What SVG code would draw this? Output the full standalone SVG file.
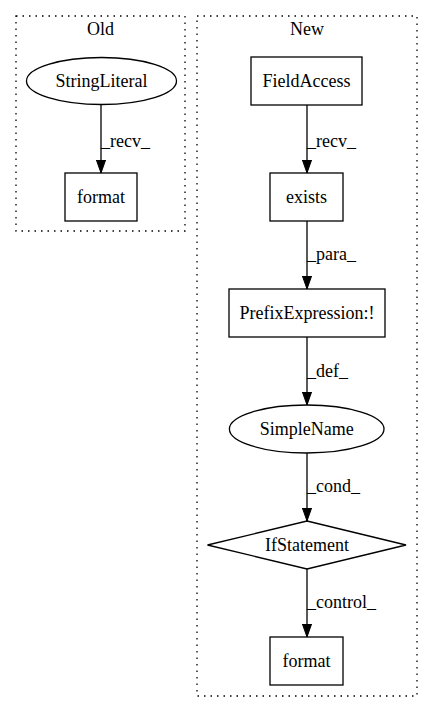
<svg xmlns="http://www.w3.org/2000/svg" width="432" height="712" viewBox="0 0 432 712" font-family="'Liberation Serif', 'DejaVu Serif', serif">
<style>
text{font-family:'Liberation Serif','DejaVu Serif',serif;font-size:18px;fill:#000}
.n{text-anchor:middle}
.shape{fill:none;stroke:#000;stroke-width:1.3}
.cluster{fill:none;stroke:#000;stroke-width:1.3;stroke-dasharray:1.5,5}
.edge{fill:none;stroke:#000;stroke-width:1.3}
</style>
<defs>
<marker id="arr" markerWidth="14" markerHeight="10" refX="13.3" refY="4.7" orient="auto" markerUnits="userSpaceOnUse">
<polygon points="0,0 13.3,4.7 0,9.4" fill="#000" stroke="#000" stroke-width="1"/>
</marker>
</defs>
<rect width="432" height="712" fill="#fff"/>
<g id="cluster_old">
<rect class="cluster" x="16" y="16" width="169" height="215"/>
<text class="n" x="100.5" y="35">Old</text>
</g>
<g id="cluster_new">
<rect class="cluster" x="197" y="16" width="220" height="680"/>
<text class="n" x="307" y="35">New</text>
</g>
<g id="edges">
<line class="edge" x1="101" y1="104.5" x2="101" y2="173" marker-end="url(#arr)"/>
<text x="101" y="147">_recv_</text>
<line class="edge" x1="307" y1="105" x2="307" y2="173" marker-end="url(#arr)"/>
<text x="307" y="147">_recv_</text>
<line class="edge" x1="307" y1="221" x2="307" y2="289" marker-end="url(#arr)"/>
<text x="307" y="260">_para_</text>
<line class="edge" x1="307" y1="337" x2="307" y2="405" marker-end="url(#arr)"/>
<text x="307" y="377">_def_</text>
<line class="edge" x1="307" y1="453" x2="307" y2="521" marker-end="url(#arr)"/>
<text x="307" y="492">_cond_</text>
<line class="edge" x1="307" y1="569" x2="307" y2="637" marker-end="url(#arr)"/>
<text x="307" y="608">_control_</text>
</g>
<g id="StringLiteral">
<ellipse class="shape" cx="101.5" cy="81" rx="75" ry="23.5"/>
<text class="n" x="101.5" y="87">StringLiteral</text>
</g>
<g id="format_old">
<rect class="shape" x="65" y="173" width="72" height="48"/>
<text class="n" x="101" y="203">format</text>
</g>
<g id="FieldAccess">
<rect class="shape" x="251" y="57" width="111" height="48"/>
<text class="n" x="306.5" y="87">FieldAccess</text>
</g>
<g id="exists">
<rect class="shape" x="270" y="173" width="73" height="48"/>
<text class="n" x="306.5" y="203">exists</text>
</g>
<g id="PrefixExpression">
<rect class="shape" x="229" y="289" width="156" height="48"/>
<text class="n" x="307" y="319">PrefixExpression:!</text>
</g>
<g id="SimpleName">
<ellipse class="shape" cx="306.7" cy="429" rx="77.3" ry="24"/>
<text class="n" x="306.7" y="435">SimpleName</text>
</g>
<g id="IfStatement">
<polygon class="shape" points="307,521 406,545 307,569 207.5,545"/>
<text class="n" x="307" y="551">IfStatement</text>
</g>
<g id="format_new">
<rect class="shape" x="270" y="637" width="73" height="48"/>
<text class="n" x="306.5" y="667">format</text>
</g>
</svg>
